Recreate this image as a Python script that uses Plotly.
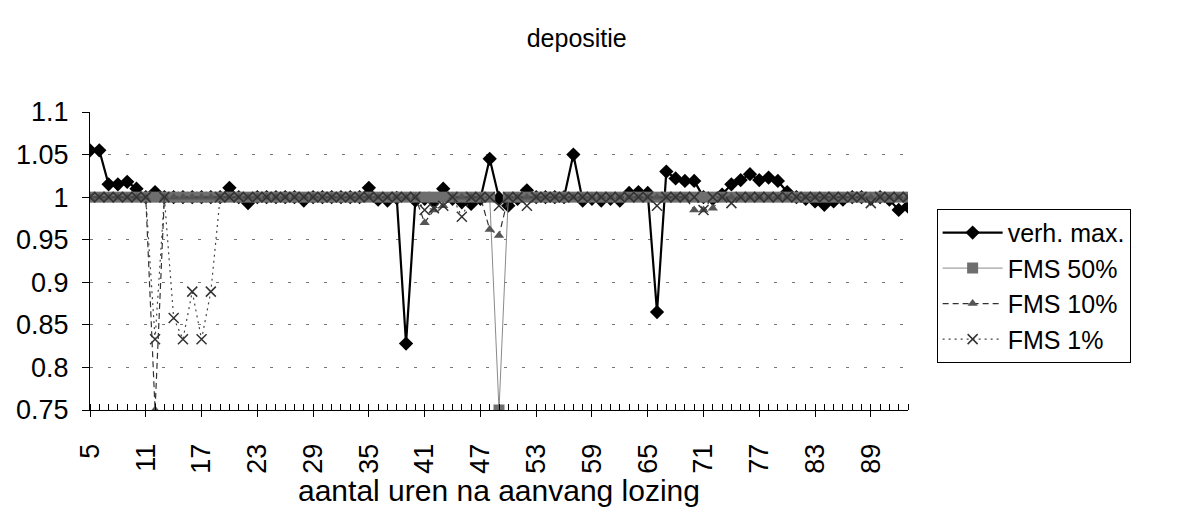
import plotly.graph_objects as go

hours = list(range(5, 94))

verh_max = [1.055, 1.055, 1.015, 1.015, 1.018, 1.01, 1.0, 1.006, 1.0, 1.0,
            1.0, 1.0, 1.0, 1.0, 1.0, 1.011, 1.0, 0.993, 1.0, 1.0,
            1.0, 1.0, 1.0, 0.996, 1.0, 1.0, 1.0, 1.0, 1.0, 1.0,
            1.011, 0.997, 0.996, 0.999, 0.828, 0.996, 0.998, 0.995, 1.01, 0.998,
            0.994, 0.992, 0.998, 1.045, 0.999, 0.99, 0.998, 1.008, 1.0, 1.0,
            1.0, 1.0, 1.05, 0.996, 0.998, 0.996, 0.998, 0.996, 1.005, 1.006,
            1.005, 0.865, 1.03, 1.022, 1.019, 1.019, 1.0, 0.998, 1.003, 1.015,
            1.02, 1.027, 1.02, 1.023, 1.019, 1.006, 1.0, 0.998, 0.995, 0.991,
            0.995, 0.997, 1.0, 1.0, 0.998, 1.0, 0.997, 0.985, 0.989]

fms50 = [1.0, 1.0, 1.0, 1.0, 1.0, 1.0, 1.0, 1.0, 1.0, 1.0,
         1.0, 1.0, 1.0, 1.0, 1.0, 1.0, 1.0, 1.0, 1.0, 1.0,
         1.0, 1.0, 1.0, 1.0, 1.0, 1.0, 1.0, 1.0, 1.0, 1.0,
         1.0, 1.0, 1.0, 1.0, 1.0, 1.0, 1.0, 1.0, 1.0, 1.0,
         1.0, 1.0, 1.0, 1.0, 0.75, 1.0, 1.0, 1.0, 1.0, 1.0,
         1.0, 1.0, 1.0, 1.0, 1.0, 1.0, 1.0, 1.0, 1.0, 1.0,
         1.0, 1.0, 1.0, 1.0, 1.0, 1.0, 1.0, 1.0, 1.0, 1.0,
         1.0, 1.0, 1.0, 1.0, 1.0, 1.0, 1.0, 1.0, 1.0, 1.0,
         1.0, 1.0, 1.0, 1.0, 1.0, 1.0, 1.0, 1.0, 1.0]

fms10 = [1.0, 1.0, 1.0, 1.0, 1.0, 1.0, 1.0, 0.75, 1.0, 1.0,
         1.0, 1.0, 1.0, 1.0, 1.0, 1.0, 1.0, 1.0, 1.0, 1.0,
         1.0, 1.0, 1.0, 1.0, 1.0, 1.0, 1.0, 1.0, 1.0, 1.0,
         1.0, 1.0, 1.0, 1.0, 1.0, 1.0, 0.97, 0.985, 0.99, 1.0,
         1.0, 1.0, 1.0, 0.962, 0.955, 1.0, 1.0, 1.0, 1.0, 1.0,
         1.0, 1.0, 1.0, 1.0, 1.0, 1.0, 1.0, 1.0, 1.0, 1.0,
         1.0, 1.0, 1.0, 1.0, 1.0, 0.985, 0.985, 0.987, 1.0, 1.0,
         1.0, 1.0, 1.0, 1.0, 1.0, 1.0, 1.0, 1.0, 1.0, 1.0,
         1.0, 1.0, 1.0, 1.0, 1.0, 1.0, 1.0, 1.0, 1.0]

fms1 = [1.0, 1.0, 1.0, 1.0, 1.0, 1.0, 1.0, 0.833, 1.0, 0.858,
        0.833, 0.889, 0.833, 0.889, 1.0, 1.0, 1.0, 1.0, 1.0, 1.0,
        1.0, 1.0, 1.0, 1.0, 1.0, 1.0, 1.0, 1.0, 1.0, 1.0,
        1.0, 1.0, 1.0, 1.0, 1.0, 1.0, 0.985, 0.987, 0.99, 1.0,
        0.977, 1.0, 1.0, 1.0, 0.99, 1.0, 1.0, 0.99, 1.0, 1.0,
        1.0, 1.0, 1.0, 1.0, 1.0, 1.0, 1.0, 1.0, 1.0, 1.0,
        1.0, 0.99, 1.0, 1.0, 1.0, 1.0, 0.985, 1.0, 1.0, 0.993,
        1.0, 1.0, 1.0, 1.0, 1.0, 1.0, 1.0, 1.0, 1.0, 1.0,
        1.0, 1.0, 1.0, 1.0, 0.993, 1.0, 1.0, 1.0, 1.0]

x_labels = [str(h) if (h - 5) % 6 == 0 else "" for h in hours]
y_ticks = [0.75, 0.8, 0.85, 0.9, 0.95, 1.0, 1.05, 1.1]
y_labels = ["0.75", "0.8", "0.85", "0.9", "0.95", "1", "1.05", "1.1"]

FONT = "Liberation Sans, Arial, sans-serif"

fig = go.Figure()
fig.add_trace(go.Scatter(
    x=hours, y=verh_max, name="verh. max.", mode="lines+markers", legendgroup="a",
    line=dict(color="black", width=2.2),
    marker=dict(symbol="diamond", size=11, color="black")))
fig.add_trace(go.Scatter(
    x=hours, y=fms50, name="FMS 50%", mode="lines+markers", legendgroup="b",
    line=dict(color="#8a8a8a", width=1),
    marker=dict(symbol="square", size=11, color="#6e6e6e")))
fig.add_trace(go.Scatter(
    x=hours, y=fms10, name="FMS 10%", mode="lines+markers", legendgroup="c",
    line=dict(color="#333333", width=1.2, dash="6px,4px"),
    marker=dict(symbol="triangle-up", size=9, color="#555555")))
fig.add_trace(go.Scatter(
    x=hours, y=fms1, name="FMS 1%", mode="lines+markers", legendgroup="d",
    line=dict(color="#444444", width=1.2, dash="2px,4px"),
    marker=dict(symbol="x-thin", size=10, line=dict(color="#333333", width=1.5))))

fig.update_layout(
    width=1177, height=514,
    margin=dict(l=90, r=269, t=112, b=104),
    paper_bgcolor="white", plot_bgcolor="white",
    font=dict(family=FONT, size=27, color="black"),
    title=dict(text="depositie", x=0.49, xanchor="center", y=0.925, yanchor="middle",
               font=dict(family=FONT, size=25, color="black")),
    showlegend=True,
    legend=dict(x=1.035, xanchor="left", y=0.675, yanchor="top",
                bgcolor="white", bordercolor="black", borderwidth=1,
                font=dict(family=FONT, size=25, color="black"),
                tracegroupgap=0, itemwidth=60),
)
fig.update_xaxes(
    range=[5, 93], tickmode="array", tickvals=hours, ticktext=x_labels,
    tickangle=-90, ticks="outside", ticklen=6, tickcolor="black", tickwidth=1,
    ticklabelstandoff=16,
    minor=dict(tickmode="array", tickvals=hours, ticks="inside", ticklen=6, tickcolor="black"),
    showline=True, linecolor="black", linewidth=1, showgrid=False, zeroline=False,
    tickfont=dict(family=FONT, size=27, color="black"),
    title=dict(text="aantal uren na aanvang lozing", standoff=2,
               font=dict(family=FONT, size=30, color="black")),
)
fig.update_yaxes(
    range=[0.75, 1.1], tickmode="array", tickvals=y_ticks, ticktext=y_labels,
    ticks="outside", ticklen=7, tickcolor="black", ticklabelstandoff=8,
    showline=True, linecolor="black", linewidth=1, zeroline=False,
    showgrid=True, gridcolor="#777777", gridwidth=1, griddash="3px,15px",
    tickfont=dict(family=FONT, size=27, color="black"),
)

fig.write_html("out.html")
